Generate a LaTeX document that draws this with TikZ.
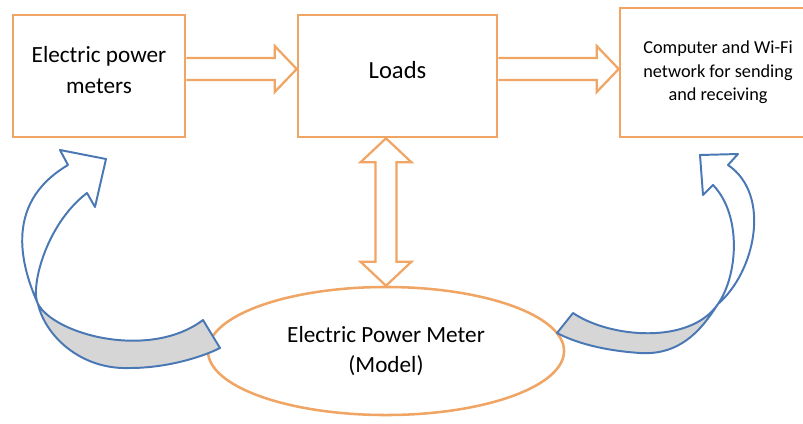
\documentclass[tikz,border=0pt]{standalone}
\usepackage{fontspec}
\setmainfont{Carlito}
\usepackage{tikz}
\usetikzlibrary{calc, shapes.geometric}

\definecolor{boxorange}{RGB}{240,165,100}
\definecolor{loopblue}{RGB}{74,120,180}
\definecolor{loopgray}{RGB}{214,214,214}

\tikzset{
    box/.style={draw=boxorange, line width=1.8pt, align=center, inner sep=2pt},
    hollow/.style={draw=boxorange, line width=1.6pt, line join=miter},
    loop/.style={draw=loopblue, line width=1.4pt, line join=round},
}

% open block arrow, left to right
\newcommand{\hollowarrow}[2]{%
    \draw[hollow] ($(#1)+(0,-11)$) -- ($(#2)+(-22,-11)$) -- ($(#2)+(-22,-23)$) -- (#2)
        -- ($(#2)+(-22,23)$) -- ($(#2)+(-22,11)$) -- ($(#1)+(0,11)$);}

% open block arrow with two heads, top to bottom
\newcommand{\hollowdoublearrow}[2]{%
    \draw[hollow] (#1) -- ($(#1)+(25.5,24)$) -- ($(#1)+(10.5,24)$) -- ($(#2)+(10.5,-24)$)
        -- ($(#2)+(25.5,-24)$) -- (#2) -- ($(#2)+(-25.5,-24)$) -- ($(#2)+(-10.5,-24)$)
        -- ($(#1)+(-10.5,24)$) -- ($(#1)+(-25.5,24)$) -- cycle;}

\begin{document}
\begin{tikzpicture}[x=0.025cm, y=-0.025cm]
    \useasboundingbox (0,0) rectangle (803,423);

    % Blocks
    \node[box, minimum width=4.3cm, minimum height=3.05cm, text depth=8.6pt,
        font=\fontsize{16.5}{21.5}\selectfont] (meters) at (99,76) {Electric power\\meters};
    \node[box, minimum width=4.975cm, minimum height=3.05cm, text depth=8.6pt,
        font=\fontsize{17.5}{21}\selectfont] (loads) at (397.5,76) {Loads};
    \node[box, minimum width=4.9cm, minimum height=3.225cm, font=\fontsize{13}{16.7}\selectfont]
        (network) at (718,72.5) {Computer and Wi-Fi\\network for sending\\and receiving};
    \node[box, ellipse, minimum width=8.9cm, minimum height=3.2cm, inner sep=0pt,
        font=\fontsize{16.5}{21.5}\selectfont] (model) at (386,351) {Electric Power Meter\\(Model)};

    % Block arrows
    \coordinate (midline) at (0,69);
    \hollowarrow{meters.east |- midline}{loads.west |- midline}
    \hollowarrow{loads.east |- midline}{network.west |- midline}
    \hollowdoublearrow{model.north |- loads.south}{model.north}

    % Left loop arrow
    \fill[loopgray] (203,320) .. controls (150,360) and (55,335) .. (38,304)
        .. controls (45,335) and (80,370) .. (130,368) .. controls (165,368) and (200,358) .. (220,348) -- cycle;
    \draw[loop] (203,320) .. controls (150,360) and (55,335) .. (38,304)
        .. controls (30,289) and (45,225) .. (87,193) -- (95,207) -- (106,159) -- (60,150) -- (68,165)
        .. controls (0,205) and (24,272) .. (38,304) .. controls (45,335) and (80,370) .. (130,368)
        .. controls (165,368) and (200,358) .. (220,348) -- cycle;

    % Right loop arrow
    \fill[loopgray] (573,313) .. controls (610,338) and (690,345) .. (718,304)
        .. controls (706,322) and (685,356) .. (640,353) .. controls (610,351) and (580,345) .. (557,333) -- cycle;
    \draw[loop] (573,313) .. controls (610,338) and (690,345) .. (718,304)
        .. controls (738,275) and (742,215) .. (713,185) -- (703,195) -- (700,155) -- (738,154) -- (728,165)
        .. controls (772,195) and (755,272) .. (718,304) .. controls (706,322) and (685,356) .. (640,353)
        .. controls (610,351) and (580,345) .. (557,333) -- cycle;
\end{tikzpicture}
\end{document}
